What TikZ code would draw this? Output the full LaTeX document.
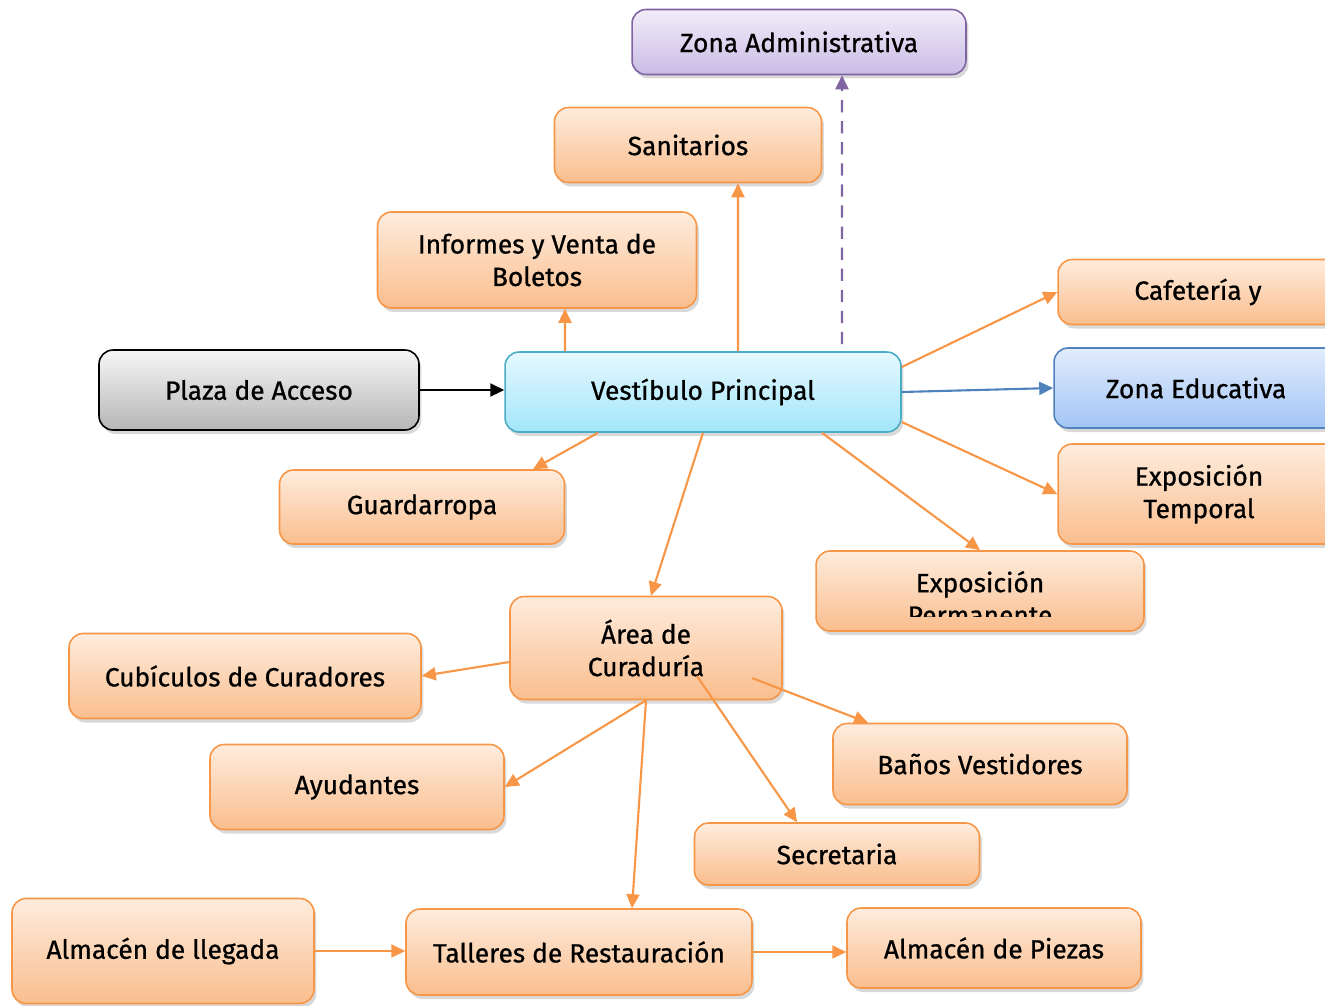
\documentclass[tikz,border=0pt]{standalone}
\usepackage{fontspec}
\setmainfont{Fira Sans}[FakeBold=0.8]
\usepackage{tikz}
\usetikzlibrary{positioning,arrows.meta,shadows,calc}
\definecolor{orangedraw}{RGB}{247,150,70}
\definecolor{orangetop}{RGB}{254,236,221}
\definecolor{orangebot}{RGB}{250,190,142}
\definecolor{cyandraw}{RGB}{75,172,198}
\definecolor{cyantop}{RGB}{230,248,255}
\definecolor{cyanbot}{RGB}{162,230,250}
\definecolor{bluedraw}{RGB}{79,129,189}
\definecolor{bluetop}{RGB}{226,236,252}
\definecolor{bluebot}{RGB}{162,196,245}
\definecolor{purpledraw}{RGB}{128,100,162}
\definecolor{purpletop}{RGB}{242,237,249}
\definecolor{purplebot}{RGB}{202,188,229}
\definecolor{graytop}{RGB}{246,246,246}
\definecolor{graybot}{RGB}{182,182,182}

\begin{document}
\begin{tikzpicture}[x=.02cm,y=-.02cm,every node/.style={font=\fontsize{15}{18.5}\selectfont},
  area/.style={rectangle,rounded corners=.28cm,draw=orangedraw,line width=.9pt,top color=orangetop,bottom color=orangebot,align=center,
    drop shadow={opacity=.3,shadow xshift=.05cm,shadow yshift=-.08cm}},
  hall/.style={area,draw=cyandraw,top color=cyantop,bottom color=cyanbot},
  edu/.style={area,draw=bluedraw,top color=bluetop,bottom color=bluebot},
  admin/.style={area,draw=purpledraw,top color=purpletop,bottom color=purplebot},
  plaza/.style={area,draw=black,top color=graytop,bottom color=graybot},
  link/.style={-{Triangle[length=2.8mm,width=2.6mm]},line width=1.2pt,orangedraw}]
  \path[use as bounding box,clip] (0,0) rectangle (1325,1005);

  \node[admin,minimum width=6.68cm,minimum height=1.3cm] (adm) at (799,42) {Zona Administrativa};
  \node[area,minimum width=5.34cm,minimum height=1.5cm] (san) at (688,145) {Sanitarios};
  \node[area,minimum width=6.38cm,minimum height=1.92cm] (inf) at (537,260) {Informes y Venta de\\Boletos};
  \node[plaza,minimum width=6.4cm,minimum height=1.6cm] (acc) at (259,390) {Plaza de Acceso};
  \node[hall,minimum width=7.92cm,minimum height=1.6cm] (ves) at (703,392) {Vestíbulo Principal};
  \node[area,minimum width=5.6cm,minimum height=1.3cm] (caf) at (1198,292) {Cafetería y};
  \node[edu,minimum width=5.68cm,minimum height=1.6cm] (zed) at (1196,388) {Zona Educativa};
  \node[area,minimum width=5.64cm,minimum height=2cm] (tem) at (1199,494) {Exposición\\Temporal};
  \node[area,minimum width=5.7cm,minimum height=1.48cm] (gua) at (422,507) {Guardarropa};
  \node[area,minimum width=6.56cm,minimum height=1.6cm] (per) at (980,591) {};
  \begin{scope}
    \clip (816,551) rectangle (1144,616);
    \node[align=center] (pertxt) at (980,598) {Exposición\\Permanente};
  \end{scope}
  \node[area,minimum width=5.44cm,minimum height=2.06cm] (are) at (646,648) {Área de\\Curaduría};
  \node[area,minimum width=7.04cm,minimum height=1.7cm] (cub) at (245,676) {Cubículos de Curadores};
  \node[area,minimum width=5.88cm,minimum height=1.7cm] (ayu) at (357,787) {Ayudantes};
  \node[area,minimum width=5.88cm,minimum height=1.62cm] (ban) at (980,764) {Baños Vestidores};
  \node[area,minimum width=5.7cm,minimum height=1.24cm] (sec) at (837,854) {Secretaria};
  \node[area,minimum width=6.04cm,minimum height=2.1cm] (lle) at (163,951) {Almacén de llegada};
  \node[area,minimum width=6.92cm,minimum height=1.72cm] (tal) at (579,952) {Talleres de Restauración};
  \node[area,minimum width=5.88cm,minimum height=1.6cm] (pie) at (994,948) {Almacén de Piezas};

  \draw[link,black] (acc.east) -- (acc.east -| ves.west);
  \draw[link] ([xshift=-2.76cm]ves.north) -- ([xshift=.56cm]inf.south);
  \draw[link] ([xshift=.7cm]ves.north) -- ([xshift=1cm]san.south);
  \draw[link,purpledraw,dash pattern=on 7pt off 5pt] ([xshift=2.78cm,yshift=.14cm]ves.north) -- ([xshift=.86cm]adm.south);
  \draw[link] ([yshift=.5cm]ves.east) -- (caf.west);
  \draw[link,bluedraw] (ves.east) -- (zed.west);
  \draw[link] ([yshift=-.6cm]ves.east) -- (tem.west);
  \draw[link] ([xshift=2.38cm]ves.south) -- (per.north);
  \draw[link] ([xshift=-2.1cm]ves.south) -- ([xshift=2.22cm]gua.north);
  \draw[link] (ves.south) -- ([xshift=.1cm]are.north);
  \draw[link] ([yshift=-.28cm]are.west) -- (cub.east);
  \draw[link] (are.south) -- (ayu.east);
  \draw[link] (are.south) -- ([xshift=1.06cm]tal.north);
  \draw[link] ([xshift=1.02cm,yshift=-.56cm]are.center) -- ([xshift=-.8cm]sec.north);
  \draw[link] ([xshift=2.12cm,yshift=-.6cm]are.center) -- ([xshift=-2.24cm]ban.north);
  \draw[link] (lle.east) -- (lle.east -| tal.west);
  \draw[link] (tal.east) -- (tal.east -| pie.west);
\end{tikzpicture}
\end{document}
